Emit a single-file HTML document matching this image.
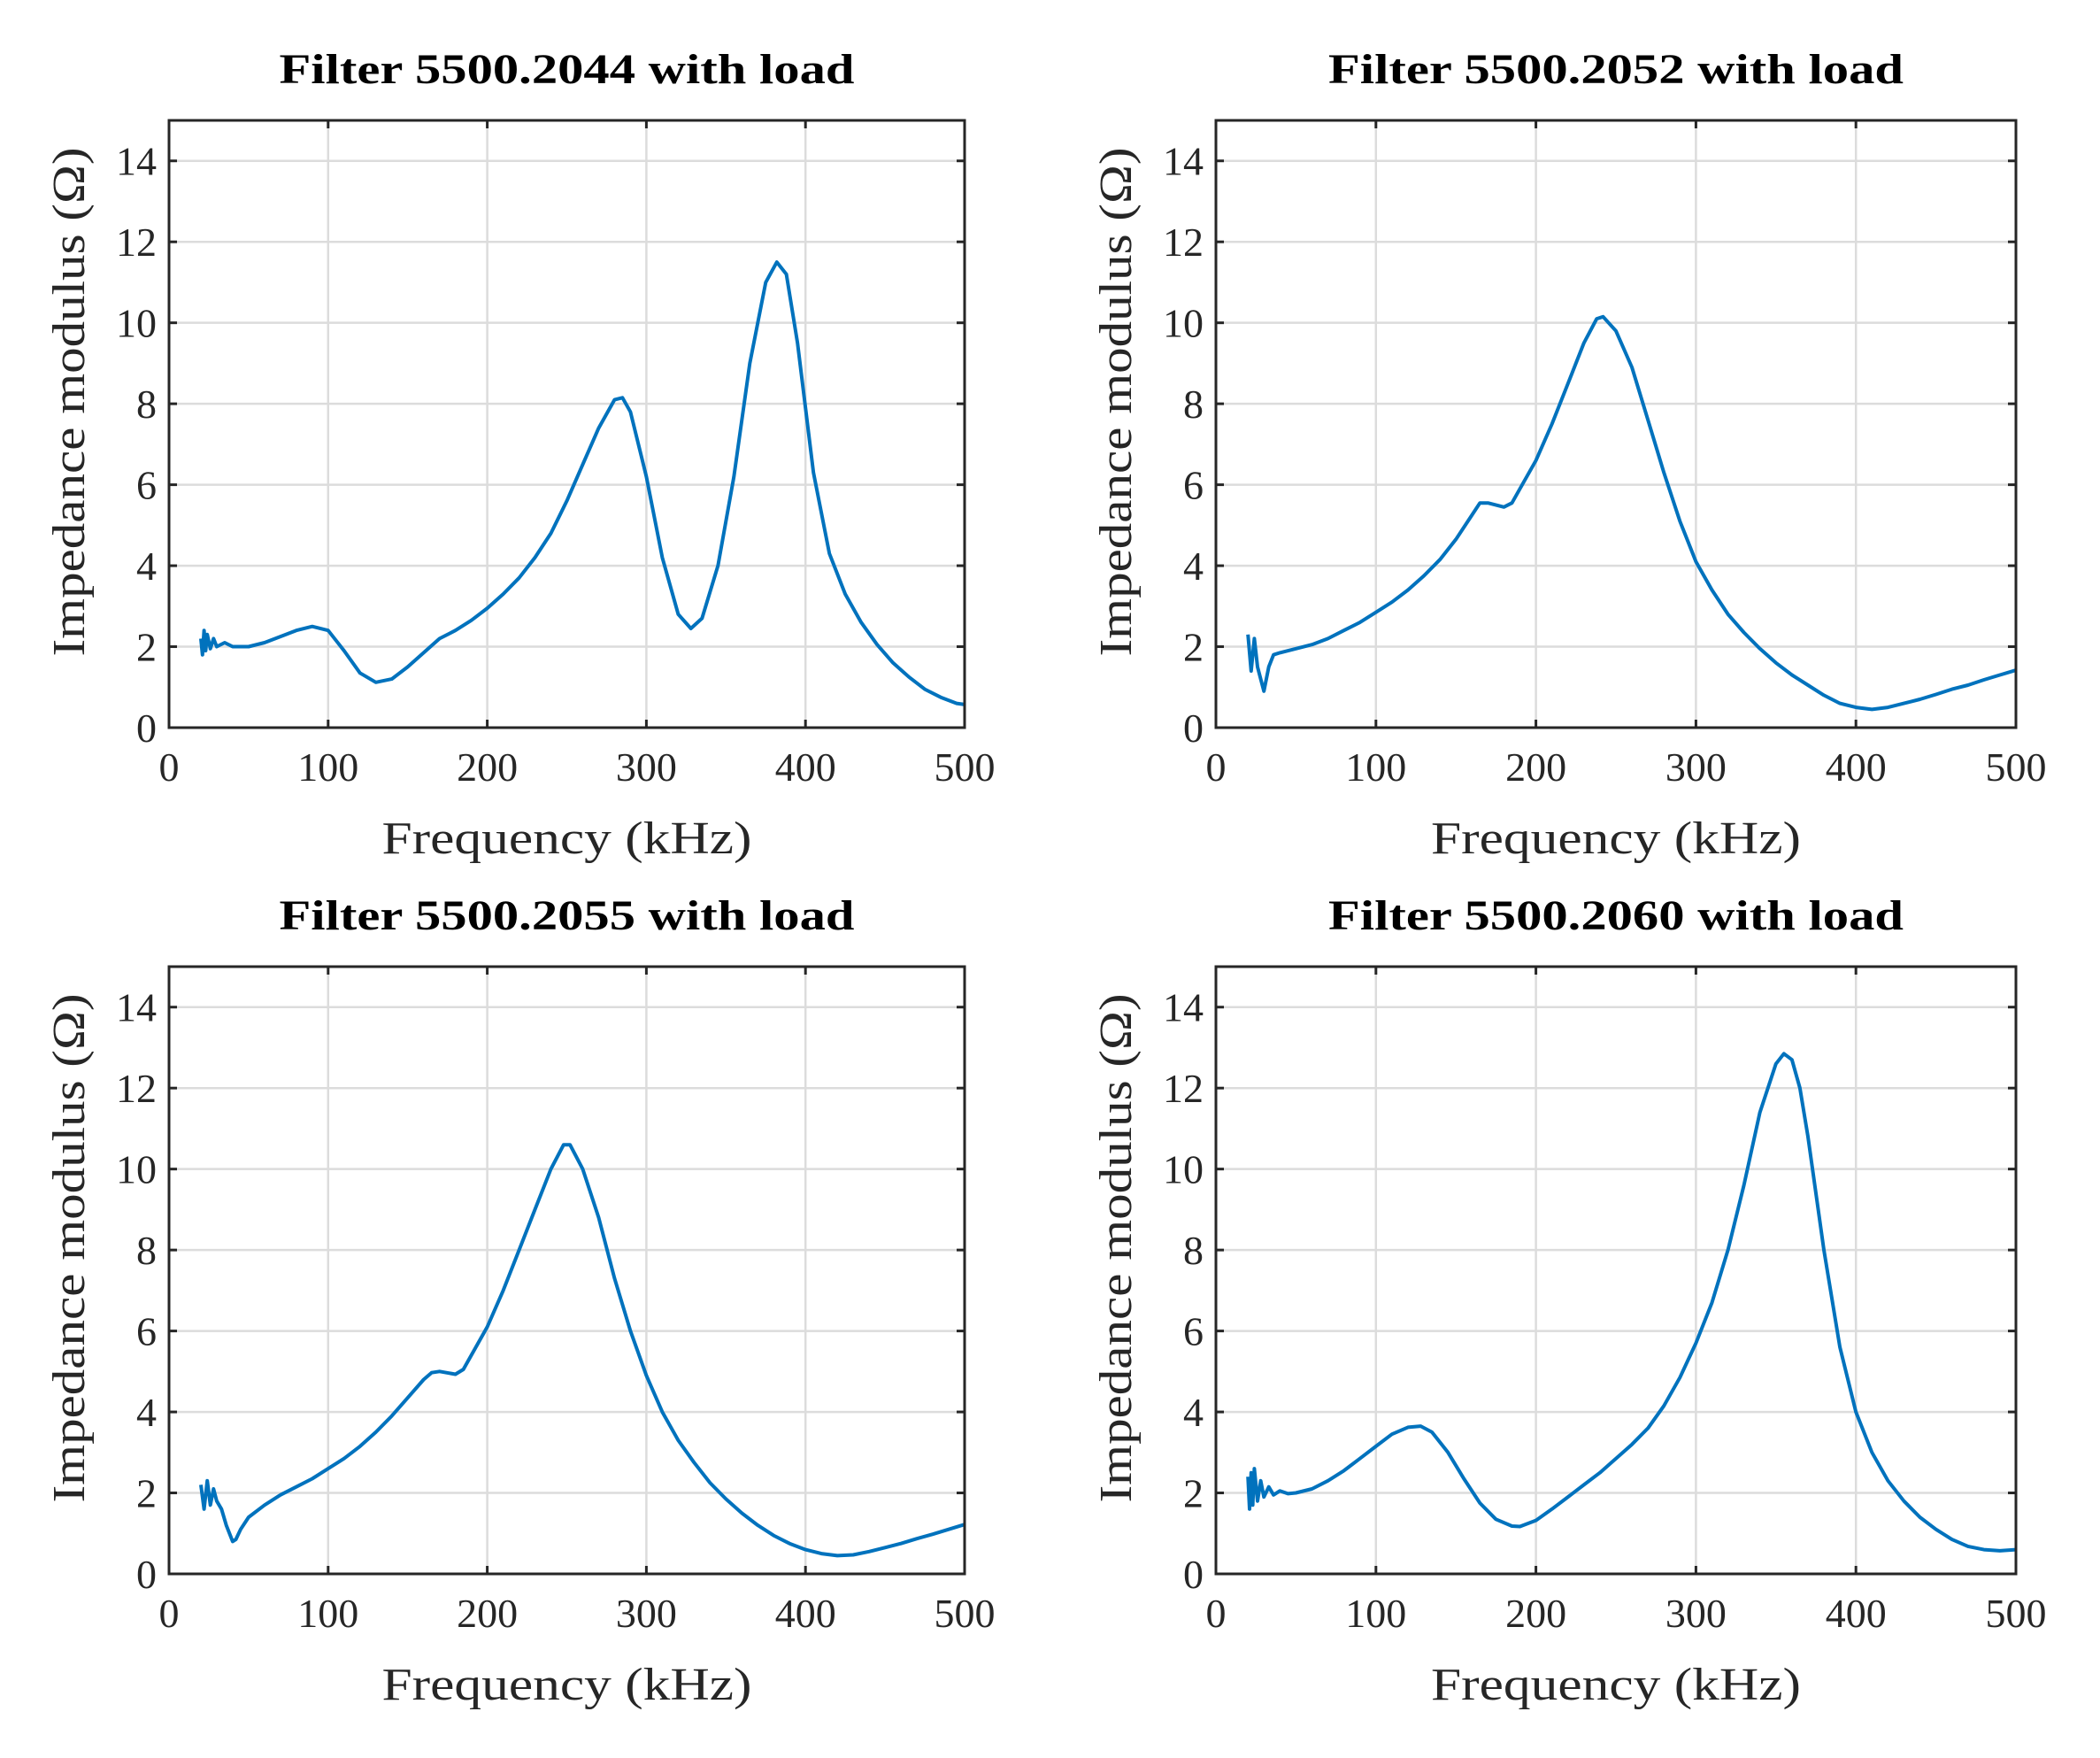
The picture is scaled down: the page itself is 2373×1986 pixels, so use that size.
<!DOCTYPE html>
<html><head><meta charset="utf-8"><style>
html,body{margin:0;padding:0;background:#fff;}
svg{display:block;font-family:"Liberation Serif",serif;}
</style></head><body>
<svg id="fig" width="2373" height="1986" viewBox="0 0 2373 1986"></svg>
<script>
const xTicks=[0,100,200,300,400,500];
const yTicks=[0,2,4,6,8,10,12,14];
const titles=["Filter 5500.2044 with load","Filter 5500.2052 with load","Filter 5500.2055 with load","Filter 5500.2060 with load"];
const freq1=[20,21,22,23,24,26,28,30,35,40,50,60,70,80,90,100,110,120,130,140,150,160,170,180,190,200,210,220,230,240,250,260,270,280,285,290,300,310,320,328,335,345,355,365,375,382,388,395,405,415,425,435,445,455,465,475,485,495,500];
const imp1=[2.2,1.8,2.4,1.9,2.3,1.95,2.2,2.0,2.1,2.0,2.0,2.1,2.25,2.4,2.5,2.4,1.9,1.35,1.12,1.2,1.5,1.85,2.2,2.4,2.65,2.95,3.3,3.7,4.2,4.8,5.6,6.5,7.4,8.1,8.15,7.8,6.2,4.2,2.8,2.45,2.7,4.0,6.2,9.0,11.0,11.5,11.2,9.5,6.3,4.3,3.3,2.6,2.05,1.6,1.25,0.95,0.75,0.6,0.57];
const freq2=[20,22,24,26,28,30,33,36,40,50,60,70,80,90,100,110,120,130,140,150,160,165,170,180,185,190,200,210,220,230,238,242,250,260,270,280,290,300,310,320,330,340,350,360,370,380,390,400,410,420,430,440,450,460,470,480,490,500];
const imp2=[2.3,1.4,2.2,1.5,1.2,0.9,1.5,1.8,1.85,1.95,2.05,2.2,2.4,2.6,2.85,3.1,3.4,3.75,4.15,4.65,5.25,5.55,5.55,5.45,5.55,5.9,6.6,7.5,8.5,9.5,10.1,10.15,9.8,8.9,7.6,6.3,5.1,4.1,3.4,2.8,2.35,1.95,1.6,1.3,1.05,0.8,0.6,0.5,0.45,0.5,0.6,0.7,0.82,0.95,1.05,1.18,1.3,1.42];
const freq3=[20,22,24,26,28,30,33,36,40,42,45,50,60,70,80,90,100,110,120,130,140,150,160,165,170,180,185,190,200,210,220,230,240,248,252,260,270,280,290,300,310,320,330,340,350,360,370,380,390,400,410,420,430,440,450,460,470,480,490,500];
const imp3=[2.2,1.6,2.3,1.7,2.1,1.8,1.6,1.2,0.8,0.85,1.1,1.4,1.7,1.95,2.15,2.35,2.6,2.85,3.15,3.5,3.9,4.35,4.8,4.97,5.0,4.93,5.05,5.4,6.1,7.0,8.0,9.0,10.0,10.6,10.6,10.0,8.8,7.3,6.0,4.9,4.0,3.3,2.75,2.25,1.85,1.5,1.2,0.95,0.75,0.6,0.5,0.45,0.47,0.55,0.65,0.75,0.87,0.98,1.1,1.22];
const freq4=[20,21,22,23,24,26,28,30,33,36,40,45,50,60,70,80,90,100,110,120,128,135,145,155,165,175,185,190,200,210,220,230,240,250,260,270,280,290,300,310,320,330,340,350,355,360,365,370,380,390,400,410,420,430,440,450,460,470,480,490,500];
const imp4=[2.4,1.6,2.5,1.7,2.6,1.8,2.3,1.9,2.15,1.95,2.05,1.98,2.0,2.1,2.3,2.55,2.85,3.15,3.45,3.62,3.65,3.5,3.0,2.35,1.75,1.35,1.18,1.17,1.32,1.6,1.9,2.2,2.5,2.85,3.2,3.6,4.15,4.85,5.7,6.7,8.0,9.6,11.4,12.6,12.85,12.7,12.0,10.8,8.0,5.6,4.0,3.0,2.3,1.8,1.4,1.1,0.85,0.68,0.6,0.57,0.6];
const allFreq=[freq1,freq2,freq3,freq4];
const allImp=[imp1,imp2,imp3,imp4];

const NS="http://www.w3.org/2000/svg";
const svg=document.getElementById('fig');
const lefts=[191,1374], rights=[1090,2278], tops=[136,1092], bottoms=[822,1778];
function mk(tag,attrs,parent){const e=document.createElementNS(NS,tag);for(const k in attrs)e.setAttribute(k,attrs[k]);(parent||svg).appendChild(e);return e;}
for(let p=0;p<4;p++){
  const L=lefts[p%2],R=rights[p%2],T=tops[Math.floor(p/2)],B=bottoms[Math.floor(p/2)];
  const sx=v=>L+(v-0)/500*(R-L);
  const sy=v=>B-(v-0)/15*(B-T);
  const g=mk('g',{});
  
  
  for(const t of xTicks){
    const gl=mk('line',{x1:sx(t),x2:sx(t),y1:T,y2:B,stroke:'#dcdcdc','stroke-width':2.5},g);
    
    
  }
  for(const t of yTicks){
    const gl=mk('line',{x1:L,x2:R,y1:sy(t),y2:sy(t),stroke:'#dcdcdc','stroke-width':2.5},g);
    
    
  }
  const pts=allFreq[p].map((f,i)=>sx(f).toFixed(1)+','+sy(allImp[p][i]).toFixed(1)).join(' ');
  const ln=mk('polyline',{points:pts,fill:'none',stroke:'#0072BD','stroke-width':4,'stroke-linejoin':'round'},g);
  
  
  for(const t of xTicks){
    mk('line',{x1:sx(t),x2:sx(t),y1:B,y2:B-9,stroke:'#262626','stroke-width':3},g);
    mk('line',{x1:sx(t),x2:sx(t),y1:T,y2:T+9,stroke:'#262626','stroke-width':3},g);
    const tx=mk('text',{x:sx(t),y:B+60,'text-anchor':'middle','font-size':46,fill:'#262626'},g);
    tx.textContent=t;
    
    
  }
  for(const t of yTicks){
    mk('line',{x1:L,x2:L+9,y1:sy(t),y2:sy(t),stroke:'#262626','stroke-width':3},g);
    mk('line',{x1:R,x2:R-9,y1:sy(t),y2:sy(t),stroke:'#262626','stroke-width':3},g);
    const ty=mk('text',{x:L-14,y:sy(t)+16,'text-anchor':'end','font-size':46,fill:'#262626'},g);
    ty.textContent=t;
    
    
  }
  const box=mk('rect',{x:L,y:T,width:R-L,height:B-T,fill:'none',stroke:'#262626','stroke-width':3},g);
  
  
  const ti=mk('text',{x:(L+R)/2,y:T-42,'text-anchor':'middle','font-size':48,'font-weight':'bold',fill:'#000',textLength:650,lengthAdjust:'spacingAndGlyphs'},g);
  ti.textContent=titles[p];
  
  
  const xl=mk('text',{x:(L+R)/2,y:B+142,'text-anchor':'middle','font-size':52,fill:'#262626',textLength:418,lengthAdjust:'spacingAndGlyphs'},g);
  xl.textContent='Frequency (kHz)';
  
  
  const cy=(T+B)/2-25, cx=L-96;
  const yl=mk('text',{x:cx,y:cy,'text-anchor':'middle','font-size':52,fill:'#262626',transform:`rotate(-90 ${cx} ${cy})`,textLength:575,lengthAdjust:'spacingAndGlyphs'},g);
  yl.textContent='Impedance modulus (Ω)';
  
  
}
</script>
</body></html>
